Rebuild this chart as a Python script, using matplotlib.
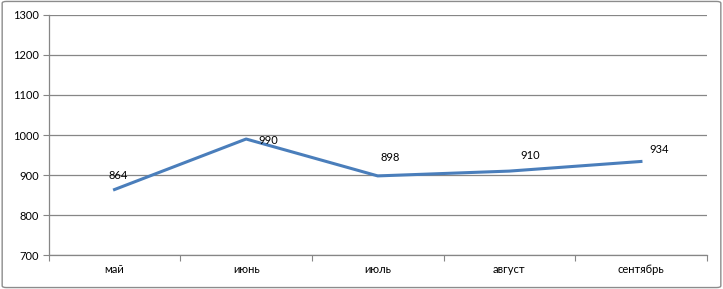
import matplotlib
matplotlib.use("Agg")
import matplotlib.pyplot as plt
from matplotlib.patches import FancyBboxPatch
import numpy as np

months = ["май", "июнь", "июль", "август", "сентябрь"]
values = [864, 990, 898, 910, 934]
# label offsets in pixels, as placed in the original chart
label_dx = [4, 22, 12, 21, 18]
label_dy = [14, -1, 18, 16, 12]

plt.rcParams['font.family'] = ['Lato', 'DejaVu Sans']

fig = plt.figure(figsize=(7.23, 2.89), dpi=100)
ax = fig.add_axes([0.0674, 0.1166, 0.9101, 0.8325])

# outer chart border
fig.patches.append(FancyBboxPatch((0.003, 0.005), 0.994, 0.99, boxstyle="round,pad=0,rounding_size=0.006",
                                  transform=fig.transFigure, fill=False, edgecolor="#8c8c8c", linewidth=1.0))

x = np.arange(len(months))
ax.plot(x, values, color="#4a7ebb", linewidth=2.2, solid_joinstyle="round", zorder=3)

for xi, v, dx, dy in zip(x, values, label_dx, label_dy):
    ax.annotate(str(v), (xi, v), xytext=(dx, dy), textcoords="offset pixels",
                ha="center", va="center", fontsize=8, color="black")

ax.set_xlim(-0.5, len(months) - 0.5)
ax.set_ylim(700, 1300)
ax.set_yticks(np.arange(700, 1301, 100))
ax.yaxis.grid(True, color="#868686", linewidth=0.9)
ax.set_axisbelow(True)

ax.set_xticks(np.arange(-0.5, len(months), 1.0))
ax.set_xticklabels([])
ax.set_xticks(x, minor=True)
ax.set_xticklabels(months, minor=True)
ax.tick_params(axis="x", which="minor", length=0, pad=6, labelsize=8)
ax.tick_params(axis="x", which="major", length=4, color="#868686", direction="out")
ax.tick_params(axis="y", length=4, color="#868686", direction="out", labelsize=8, pad=3)

for side in ["top", "right"]:
    ax.spines[side].set_visible(False)
for side in ["left", "bottom"]:
    ax.spines[side].set_color("#868686")
    ax.spines[side].set_linewidth(0.9)

fig.savefig("out.png", dpi=100)
